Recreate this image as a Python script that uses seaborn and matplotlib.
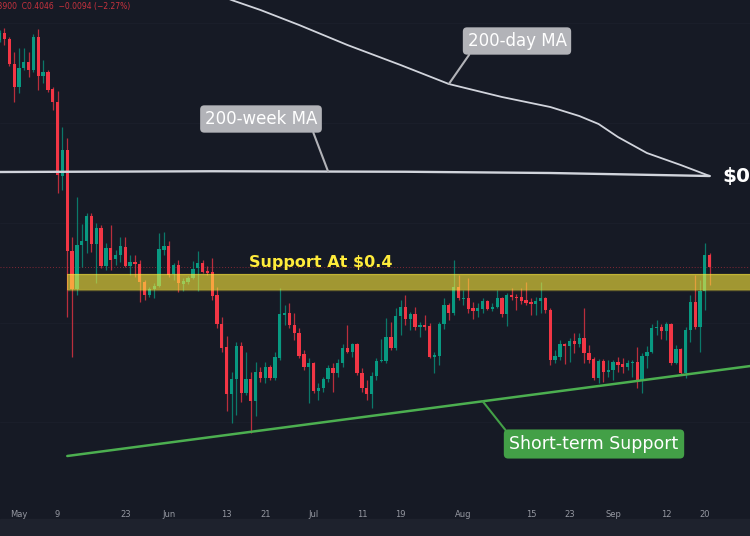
import numpy as np
import pandas as pd
import matplotlib
matplotlib.use("Agg")
import matplotlib.pyplot as plt
import seaborn as sns
from matplotlib.patches import Rectangle

# daily XRP/USDT candles, 27 Apr -> 21 Sep 2022
start_date = "2022-04-27"
opens = [
    .5860, .5916, .5868, .5668, .5484, .5636, .5684, .5620, .5884, .5572,
    .5604, .5468, .5364, .4772, .4980, .4172, .3868, .4220, .4252, .4452,
    .4228, .4356, .4052, .4196, .4108, .4140, .4204, .4052, .4084, .4068,
    .3924, .3820, .3868, .3892, .4180, .4212, .3988, .4060, .3908, .3924,
    .3956, .4036, .4076, .4012, .4004, .3820, .3588, .3404, .3028, .3148,
    .3412, .3036, .3148, .2972, .3204, .3156, .3244, .3156, .3316, .3660,
    .3676, .3580, .3516, .3348, .3244, .3276, .3052, .3076, .3148, .3236,
    .3196, .3276, .3396, .3364, .3428, .3196, .3076, .3028, .3172, .3292,
    .3292, .3484, .3396, .3652, .3724, .3628, .3668, .3564, .3580, .3572,
    .3324, .3332, .3588, .3740, .3676, .3884, .3788, .3796, .3716, .3692,
    .3708, .3772, .3708, .3724, .3796, .3668, .3820, .3804, .3804, .3780,
    .3764, .3748, .3772, .3796, .3700, .3300, .3324, .3428, .3412, .3452,
    .3428, .3476, .3356, .3308, .3156, .3292, .3204, .3220, .3284, .3268,
    .3244, .3276, .3284, .3140, .3332, .3364, .3556, .3564, .3532, .3588,
    .3276, .3388, .3196, .3540, .3764, .3564, .3852, .4140]
closes = [
    .5916, .5868, .5668, .5484, .5636, .5684, .5620, .5884, .5572, .5604,
    .5460, .5364, .4780, .4980, .4172, .3868, .4220, .4252, .4452, .4228,
    .4356, .4052, .4196, .4100, .4140, .4212, .4052, .4084, .4068, .3924,
    .3820, .3868, .3892, .4188, .4212, .3980, .4060, .3916, .3932, .3956,
    .4028, .4076, .4004, .3996, .3812, .3588, .3396, .3028, .3148, .3412,
    .3036, .3148, .2972, .3204, .3156, .3244, .3156, .3324, .3668, .3676,
    .3580, .3516, .3332, .3244, .3276, .3052, .3076, .3148, .3236, .3196,
    .3276, .3396, .3364, .3428, .3196, .3076, .3028, .3172, .3292, .3300,
    .3484, .3396, .3652, .3724, .3628, .3668, .3564, .3580, .3564, .3324,
    .3340, .3588, .3740, .3676, .3884, .3796, .3796, .3708, .3692, .3716,
    .3772, .3708, .3724, .3796, .3668, .3820, .3804, .3796, .3772, .3756,
    .3748, .3772, .3796, .3700, .3300, .3332, .3428, .3412, .3452, .3428,
    .3476, .3356, .3300, .3156, .3292, .3204, .3220, .3284, .3260, .3244,
    .3276, .3284, .3140, .3332, .3364, .3556, .3564, .3532, .3588, .3276,
    .3388, .3196, .3540, .3764, .3564, .3852, .4140, .4046]
highs = [
    .5940, .5956, .5884, .5764, .5796, .5796, .5764, .5908, .5948, .5700,
    .5620, .5484, .5452, .5164, .5076, .4284, .4604, .4388, .4476, .4476,
    .4396, .4380, .4236, .4380, .4180, .4284, .4284, .4140, .4140, .4100,
    .3940, .3884, .3916, .4316, .4324, .4252, .4076, .4100, .3956, .3972,
    .4092, .4172, .4100, .4052, .4116, .3884, .3644, .3492, .3204, .3444,
    .3444, .3364, .3204, .3284, .3244, .3284, .3260, .3364, .3876, .3740,
    .3756, .3676, .3556, .3380, .3316, .3284, .3116, .3164, .3260, .3276,
    .3308, .3428, .3580, .3436, .3436, .3236, .3140, .3204, .3316, .3468,
    .3636, .3604, .3716, .3780, .3820, .3684, .3724, .3604, .3660, .3596,
    .3364, .3604, .3796, .3756, .4100, .3980, .3860, .3956, .3764, .3756,
    .3796, .3780, .3756, .3860, .3804, .3836, .3876, .3828, .3876, .3924,
    .3796, .3804, .3924, .3804, .3716, .3380, .3460, .3436, .3476, .3516,
    .3516, .3716, .3420, .3324, .3308, .3308, .3300, .3300, .3324, .3316,
    .3300, .3300, .3404, .3356, .3412, .3588, .3620, .3588, .3604, .3596,
    .3420, .3396, .3564, .3820, .3980, .3940, .4236, .4156]
lows = [
    .5844, .5820, .5652, .5364, .5436, .5620, .5564, .5604, .5460, .5516,
    .5444, .5300, .4636, .4660, .3644, .3324, .3820, .4044, .4156, .4164,
    .3916, .4036, .4020, .4020, .4060, .4084, .4044, .3980, .3964, .3764,
    .3780, .3804, .3796, .3884, .4140, .3964, .3940, .3844, .3852, .3908,
    .3948, .3852, .3996, .3980, .3780, .3556, .3364, .2892, .2796, .2860,
    .2964, .3020, .2716, .2852, .3124, .3116, .3140, .3140, .3300, .3580,
    .3556, .3460, .3316, .3220, .2956, .3036, .2980, .3044, .3124, .3044,
    .3164, .3244, .3356, .3324, .3180, .3044, .2980, .2916, .3140, .3284,
    .3276, .3380, .3380, .3500, .3580, .3540, .3540, .3484, .3540, .3316,
    .3196, .3260, .3548, .3620, .3660, .3780, .3740, .3676, .3628, .3644,
    .3676, .3700, .3692, .3716, .3644, .3572, .3780, .3700, .3748, .3740,
    .3660, .3660, .3676, .3676, .3260, .3276, .3300, .3268, .3284, .3356,
    .3404, .3276, .3276, .3140, .3116, .3124, .3164, .3140, .3204, .3196,
    .3220, .3164, .3076, .3036, .3236, .3356, .3500, .3468, .3460, .3260,
    .3268, .3180, .3156, .3444, .3548, .3364, .3700, .3900]

# moving averages
ma200d_dates = ["2022-06-10", "2022-06-14", "2022-06-20", "2022-06-28", "2022-07-08",
                "2022-07-19", "2022-07-29", "2022-08-09", "2022-08-19", "2022-08-25",
                "2022-08-29", "2022-09-02", "2022-09-08", "2022-09-15", "2022-09-21"]
ma200d_values = [0.6244, 0.6180, 0.6100, 0.5980, 0.5820, 0.5660, 0.5508, 0.5404,
                 0.5324, 0.5252, 0.5188, 0.5084, 0.4956, 0.4860, 0.4772]
ma200w_dates = ["2022-04-27", "2022-06-10", "2022-07-20", "2022-08-19", "2022-09-21"]
ma200w_values = [0.4804, 0.4810, 0.4806, 0.4796, 0.4772]

# short-term support trendline and $0.4 support zone
trend_dates = ["2022-05-11", "2022-10-03"]
trend_values = [0.2532, 0.3270]
support_zone = (0.3860, 0.3988)
support_start = "2022-05-11"

tick_dates = ["2022-05-01", "2022-05-09", "2022-05-23", "2022-06-01", "2022-06-13",
              "2022-06-21", "2022-07-01", "2022-07-11", "2022-07-19", "2022-08-01",
              "2022-08-15", "2022-08-23", "2022-09-01", "2022-09-12", "2022-09-20"]
tick_labels = ["May", "9", "23", "Jun", "13", "21", "Jul", "11", "19",
               "Aug", "15", "23", "Sep", "12", "20"]

BG = "#161a25"
GREEN = "#089981"
RED = "#f23645"
GREY_BOX = "#b2b3b8"

sns.set_theme(style="dark", rc={"axes.facecolor": BG, "figure.facecolor": BG})
plt.rcParams["font.family"] = ["DejaVu Sans"]

df = pd.DataFrame({
    "date": pd.date_range(start_date, periods=len(opens), freq="D"),
    "open": opens, "high": highs, "low": lows, "close": closes,
})
up = df["close"] >= df["open"]
colors = np.where(up, GREEN, RED)

fig = plt.figure(figsize=(7.5, 5.36), dpi=100)
ax = fig.add_axes([0, 36 / 536, 1, 500 / 536])
ax.set_facecolor(BG)

x0 = pd.Timestamp("2022-05-01")
ax.set_xlim(x0 - pd.Timedelta(days=3.93), x0 + pd.Timedelta(days=151.35))
ax.set_ylim(0.218, 0.618)

# very faint grid
ax.set_yticks([0.28, 0.36, 0.44, 0.52, 0.60])
ax.set_yticklabels([])
ax.grid(axis="y", color="#1a1e2a", lw=0.8)
ax.tick_params(axis="y", length=0)

# candles
ax.vlines(df["date"], df["low"], df["high"], colors=colors, lw=0.9, alpha=0.75, zorder=2)
body = np.maximum((df["close"] - df["open"]).abs(), 0.0008)
ax.bar(df["date"], body, bottom=np.minimum(df["open"], df["close"]),
       width=0.68, color=colors, lw=0, zorder=3)

# last price line
ax.axhline(closes[-1], color=RED, ls=(0, (1, 2)), lw=0.7, alpha=0.5, zorder=1)

# moving averages + trendline
sns.lineplot(x=pd.to_datetime(ma200d_dates), y=ma200d_values, ax=ax,
             color="#d1d4dc", lw=1.3, zorder=5)
sns.lineplot(x=pd.to_datetime(ma200w_dates), y=ma200w_values, ax=ax,
             color="#d1d4dc", lw=1.7, zorder=5)
sns.lineplot(x=pd.to_datetime(trend_dates), y=trend_values, ax=ax,
             color="#4caf50", lw=1.8, zorder=5)
ax.set_xlabel("")
ax.set_ylabel("")

# support zone
zone_x = pd.to_datetime([support_start, "2022-10-05"])
ax.fill_between(zone_x, support_zone[0], support_zone[1], color="#ffeb3b",
                alpha=0.6, lw=0, zorder=4)
ax.hlines(support_zone, zone_x[0], zone_x[1], color="#ffeb3b", alpha=0.35, lw=1, zorder=4)

fig.text(249 / 750, 1 - 262 / 536, "Support At $0.4", color="#ffeb3b",
         fontsize=11.5, fontweight="bold", va="center", ha="left")

# callouts
box = dict(boxstyle="round,pad=0.28,rounding_size=0.25", fc=GREY_BOX, ec="none")
ax.annotate("200-week MA", xy=(pd.Timestamp("2022-07-04"), 0.4808),
            xytext=(261, 536 - 119), textcoords="figure pixels",
            ha="center", va="center", color="white", fontsize=12, bbox=box,
            arrowprops=dict(arrowstyle="-", color=GREY_BOX, lw=1.5,
                            relpos=(0.95, 0), shrinkA=0, shrinkB=0), zorder=6)
ax.annotate("200-day MA", xy=(pd.Timestamp("2022-07-29"), 0.5508),
            xytext=(517, 536 - 41), textcoords="figure pixels",
            ha="center", va="center", color="white", fontsize=12, bbox=box,
            arrowprops=dict(arrowstyle="-", color=GREY_BOX, lw=1.5,
                            relpos=(0.05, 0), shrinkA=0, shrinkB=0), zorder=6)
gbox = dict(boxstyle="round,pad=0.32,rounding_size=0.25", fc="#43a047", ec="none")
ax.annotate("Short-term Support", xy=(pd.Timestamp("2022-08-05"), 0.2970),
            xytext=(594, 536 - 444), textcoords="figure pixels",
            ha="center", va="center", color="white", fontsize=12.5, bbox=gbox,
            arrowprops=dict(arrowstyle="-", color="#43a047", lw=1.5,
                            relpos=(0.0, 1.0), shrinkA=0, shrinkB=0), zorder=6)

# price label at the right edge (cut by the screenshot, as in the source)
fig.text(722 / 750, 1 - 176 / 536, "$0.48", color="white", fontsize=14.5,
         fontweight="bold", va="center", ha="left")

# header (OHLC strip, cut at the left edge)
fig.text(-14 / 750, 1 - 6 / 536, "L0.3900  C0.4046  \u22120.0094 (\u22122.27%)",
         color="#c8323e", fontsize=5.5, va="center", ha="left")

# time axis
ax.set_xticks(pd.to_datetime(tick_dates))
ax.set_xticklabels(tick_labels)
ax.tick_params(axis="x", length=0, pad=7, labelsize=6, colors="#9598a1")
for s in ax.spines.values():
    s.set_visible(False)

fig.add_artist(Rectangle((0, 0), 1, 17 / 536, transform=fig.transFigure,
                         color="#1e222d", zorder=0))

fig.savefig("out.png", dpi=100, facecolor=BG)
